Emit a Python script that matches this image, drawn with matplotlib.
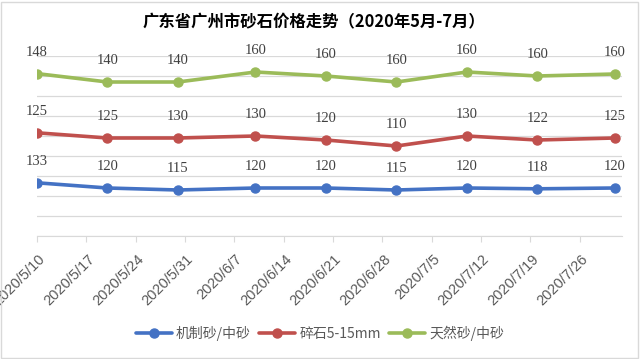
import datetime as dt
import numpy as np
import pandas as pd
import matplotlib
matplotlib.use("Agg")
import matplotlib.pyplot as plt
import matplotlib.transforms as mtransforms
from matplotlib.patches import Rectangle

plt.rcParams['font.family'] = ['Noto Sans CJK SC', 'DejaVu Sans']

# 数据（堆积折线图，标签显示各自数值）
dates = ["2020-05-10", "2020-05-20", "2020-05-30", "2020-06-10", "2020-06-20",
         "2020-06-30", "2020-07-10", "2020-07-20", "2020-07-31"]
series_names = ["机制砂/中砂", "碎石5-15mm", "天然砂/中砂"]
jizhisha = [133, 120, 115, 120, 120, 115, 120, 118, 120]
suishi = [125, 125, 130, 130, 120, 110, 130, 122, 125]
tianransha = [148, 140, 140, 160, 160, 160, 160, 160, 160]
colors = ["#4472C4", "#C0504D", "#9BBB59"]
title = "广东省广州市砂石价格走势（2020年5月-7月）"

x = pd.to_datetime(dates)
values = np.array([jizhisha, suishi, tianransha], dtype=float)
stacked = np.cumsum(values, axis=0)

fig = plt.figure(figsize=(6.4, 3.59), dpi=100)
ax = fig.add_axes([37 / 640, 1 - 236 / 359, 585 / 640, 180 / 359])

for i in range(3):
    ax.plot(x, stacked[i], color=colors[i], lw=2.6, marker='o', ms=6.5,
            solid_capstyle='round', label=series_names[i], zorder=3)
    for xi, yi, v in zip(x, stacked[i], values[i]):
        ax.annotate(f"{int(v)}", (xi, yi), xytext=(0, 21), textcoords='offset pixels',
                    ha='center', va='center', fontsize=10.5, color='#404040',
                    family='Liberation Serif')

ax.set_ylim(0, 450)
ax.set_yticks(np.arange(0, 451, 50))
ax.yaxis.grid(True, color='#D9D9D9', lw=0.9)
ax.tick_params(axis='y', left=False, labelleft=False)
ax.set_xlim(pd.Timestamp("2020-05-10"), pd.Timestamp("2020-08-01"))

ticks = pd.date_range("2020-05-10", "2020-07-26", freq="7D")
ax.set_xticks(ticks)
ax.set_xticklabels([f"{d.year}/{d.month}/{d.day}" for d in ticks], rotation=45,
                   ha='right', va='center', rotation_mode='anchor',
                   fontsize=10.5, color='#595959', family='Liberation Sans')
ax.tick_params(axis='x', length=4.3, color='#D9D9D9', pad=10.5)
shift = mtransforms.ScaledTranslation(6 / 100, 0, fig.dpi_scale_trans)
for lab in ax.get_xticklabels():
    lab.set_transform(lab.get_transform() + shift)

for s in ['top', 'right', 'left']:
    ax.spines[s].set_visible(False)
ax.spines['bottom'].set_color('#D9D9D9')

fig.text(314 / 640, 1 - 22 / 359, title, ha='center', va='center',
         fontsize=11.8, fontweight='bold', color='#000000')

fig.legend(loc='center', bbox_to_anchor=(320 / 640, 1 - 333 / 359), ncol=3,
           frameon=False, fontsize=10, handlelength=2.6, columnspacing=0.6,
           handletextpad=0.3, labelcolor='#595959')

fig.patches.append(Rectangle((1 / 640, 1 / 359), 637 / 640, 356 / 359,
                             transform=fig.transFigure, fill=False,
                             edgecolor='#D9D9D9', lw=1))

fig.savefig("out.png", dpi=100)
